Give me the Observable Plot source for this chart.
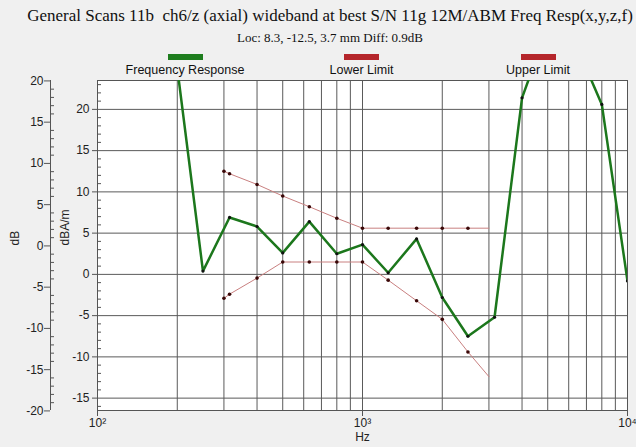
<!DOCTYPE html>
<html>
<head>
<meta charset="utf-8">
<script src="https://cdn.jsdelivr.net/npm/d3@7"></script>
<script src="https://cdn.jsdelivr.net/npm/@observablehq/plot@0.6"></script>
<style>
html,body{margin:0;padding:0;}
body{width:636px;height:447px;background:#f0f0f0;position:relative;overflow:hidden;font-family:"Liberation Sans",Arial,sans-serif;}
#title{position:absolute;left:0;width:660px;top:6px;text-align:center;font:17px "Liberation Serif","Times New Roman",serif;white-space:pre;color:#111;}
#subtitle{position:absolute;left:0;width:660px;top:30px;text-align:center;font:13px "Liberation Serif","Times New Roman",serif;color:#111;white-space:pre;}
.sw{position:absolute;top:54px;width:35px;height:6px;z-index:2;}
.lg{position:absolute;top:63px;width:200px;text-align:center;font-size:12.5px;line-height:14px;color:#111;z-index:2;}
#chart{position:absolute;left:0;top:66px;}
</style>
</head>
<body>
<div id="title"></div>
<div id="subtitle"></div>
<div id="legend"></div>
<div id="chart"></div>
<script>
// ---- text ----
const titleText = "General Scans 11b  ch6/z (axial) wideband at best S/N 11g 12M/ABM Freq Resp(x,y,z,f)";
const subtitleText = "Loc: 8.3, -12.5, 3.7 mm Diff: 0.9dB";
const legendLabels = ["Frequency Response", "Lower Limit", "Upper Limit"];
const legendColors = ["#1e7d1e", "#b5262b", "#b5262b"];

// ---- data ----
const respFreq = [200, 250, 315, 400, 500, 630, 800, 1000, 1250, 1600, 2000, 2500, 3150, 4000, 5000, 6300, 8000, 10000];
const respValue = [25, 0.4, 6.9, 5.8, 2.6, 6.4, 2.5, 3.6, 0.2, 4.3, -2.8, -7.5, -5.2, 21.4, 30, 28.3, 20.6, -0.8];

const limitFreq = [300, 315, 400, 500, 630, 800, 1000, 1250, 1600, 2000, 2500, 3000];
const limitHigh = [12.5, 12.2, 10.9, 9.5, 8.2, 6.8, 5.6, 5.6, 5.6, 5.6, 5.6, 5.6];
const limitLow = [-2.9, -2.4, -0.45, 1.5, 1.5, 1.5, 1.5, -0.7, -3.2, -5.45, -9.4, -12.4];

// ---- ticks ----
const xTicks = [100, 1000, 10000];
const xTickLabels = ["10\u00B2", "10\u00B3", "10\u2074"];
const gridX = [200, 300, 400, 500, 600, 700, 800, 900, 1000, 2000, 3000, 4000, 5000, 6000, 7000, 8000, 9000];
const innerTicks = [-15, -10, -5, 0, 5, 10, 15, 20];
const innerMinor = [-16, -14, -13, -12, -11, -9, -8, -7, -6, -4, -3, -2, -1, 1, 2, 3, 4, 6, 7, 8, 9, 11, 12, 13, 14, 16, 17, 18, 19, 21, 22, 23];
const outerTicks = [-20, -15, -10, -5, 0, 5, 10, 15, 20];
const outerMinor = [-19, -18, -17, -16, -14, -13, -12, -11, -9, -8, -7, -6, -4, -3, -2, -1, 1, 2, 3, 4, 6, 7, 8, 9, 11, 12, 13, 14, 16, 17, 18, 19];
const dbOffset = 3.45; // dBA/m = dB + offset

document.getElementById("title").textContent = titleText;
document.getElementById("subtitle").textContent = subtitleText;
const legendCenters = [185, 361.5, 538];
const lg = document.getElementById("legend");
legendLabels.forEach((t, i) => {
  const sw = document.createElement("div");
  sw.className = "sw";
  sw.style.left = (legendCenters[i] - 17.5) + "px";
  sw.style.background = legendColors[i];
  lg.appendChild(sw);
  const tx = document.createElement("div");
  tx.className = "lg";
  tx.style.left = (legendCenters[i] - 100) + "px";
  tx.textContent = t;
  lg.appendChild(tx);
});

const respRows = respFreq.map((f, i) => ({f, v: respValue[i]}));
const limitRows = limitFreq.map((f, i) => ({f, hi: limitHigh[i], lo: limitLow[i]}));

const axisColor = "#555";
const textColor = "#222";

const plot = Plot.plot({
  width: 636,
  height: 381,
  marginLeft: 97,
  marginRight: 9,
  marginTop: 14,
  marginBottom: 37,
  style: {background: "transparent", fontFamily: "Liberation Sans, Arial, sans-serif", fontSize: "12px", color: textColor},
  x: {type: "log", domain: [100, 10000], label: null},
  y: {domain: [-16.5, 23.5], label: null},
  marks: [
    Plot.frame({fill: "white", stroke: null}),
    Plot.ruleX(gridX, {stroke: "#5a5a5a", strokeWidth: 1}),
    Plot.ruleY(innerTicks, {stroke: "#5a5a5a", strokeWidth: 1}),
    Plot.frame({stroke: "#555"}),
    Plot.line(limitRows, {x: "f", y: "hi", stroke: "#c98080", strokeWidth: 1, clip: true}),
    Plot.line(limitRows, {x: "f", y: "lo", stroke: "#c98080", strokeWidth: 1, clip: true}),
    Plot.dot(limitRows.slice(0, -1), {x: "f", y: "hi", r: 1.8, fill: "#3a0808", stroke: null}),
    Plot.dot(limitRows.slice(0, -1), {x: "f", y: "lo", r: 1.8, fill: "#3a0808", stroke: null}),
    Plot.line(respRows, {x: "f", y: "v", stroke: "#1c771c", strokeWidth: 2.5, clip: true}),
    Plot.dot(respRows, {x: "f", y: "v", r: 1.6, fill: "#111", stroke: null, clip: true}),
    // inner (dBA/m) axis
    Plot.axisY(innerTicks, {anchor: "left", tickSize: 5, tickPadding: 3, stroke: axisColor, fill: textColor, tickFormat: d => String(d), label: null}),
    Plot.axisY(innerMinor, {anchor: "left", tickSize: 4, dx: 4, stroke: axisColor, fill: "none", label: null}),
    // outer (dB) axis
    Plot.ruleX([100], {dx: -47, stroke: axisColor}),
    Plot.axisY(outerTicks.map(v => v + dbOffset), {anchor: "left", dx: -47, tickSize: 6, tickPadding: 1, stroke: axisColor, fill: textColor, tickFormat: d => String(Math.round(d - dbOffset)), label: null}),
    Plot.axisY(outerMinor.map(v => v + dbOffset), {anchor: "left", dx: -43, tickSize: 4, stroke: axisColor, fill: "none", label: null}),
    // x axis
    Plot.axisX(xTicks, {anchor: "bottom", tickSize: 6, tickPadding: 2, stroke: axisColor, fill: textColor, tickFormat: d => xTickLabels[xTicks.indexOf(d)], label: null}),
    Plot.text(["Hz"], {x: [1000], frameAnchor: "bottom", dy: 30, text: d => d, fill: textColor, fontSize: 12}),
    Plot.text(["dB"], {frameAnchor: "left", dx: -82, rotate: -90, text: d => d, fill: textColor, fontSize: 12}),
    Plot.text(["dBA/m"], {frameAnchor: "left", dx: -32, rotate: -90, text: d => d, fill: textColor, fontSize: 12})
  ]
});
document.getElementById("chart").appendChild(plot);
</script>
</body>
</html>
